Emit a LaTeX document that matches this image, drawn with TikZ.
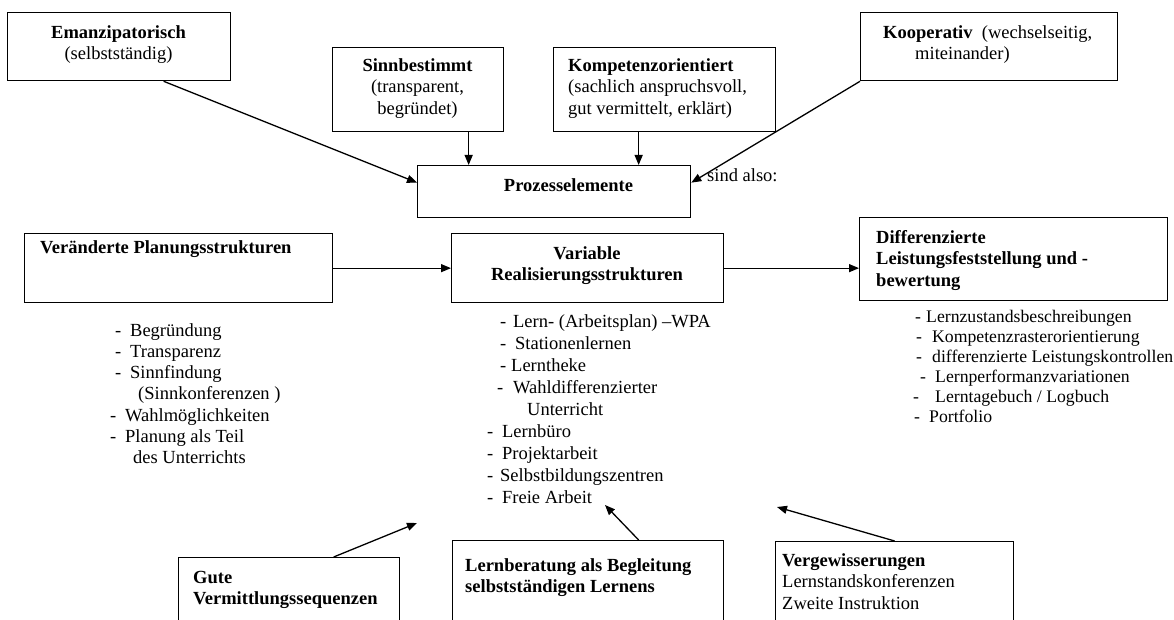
\documentclass[tikz,border=0pt]{standalone}
\usepackage{fontspec}
\setmainfont{Liberation Serif}
\usepackage{tikz}
\usetikzlibrary{arrows.meta,positioning}

% one list line: dash position, text position, text
\newcommand{\zeile}[3]{\makebox[0pt][l]{\hspace*{#1pt}-}\hspace*{#2pt}#3}
% continuation line without dash
\newcommand{\weiter}[2]{\hspace*{#1pt}#2}

\tikzset{
  kasten/.style={draw, line width=1.3pt, inner sep=0pt, anchor=north west},
  txt/.style={inner sep=0pt, font=\fontsize{18.5}{21.5}\selectfont},
  fett/.style={inner sep=0pt, font=\fontsize{18.5}{21.5}\selectfont\bfseries},
  liste/.style={inner sep=0pt, align=left, anchor=north west},
  pfeil/.style={-{Triangle[length=10pt,width=8pt]}, line width=1.3pt}
}

\begin{document}
\begin{tikzpicture}[x=1pt,y=-1pt]
\useasboundingbox (0,0) rectangle (1174,620);
\clip (0,0) rectangle (1174,620);

% top row
\node[kasten, minimum width=223pt, minimum height=68pt] (emanz) at (7,12) {};
\node[txt, align=center, anchor=north] (emanztext) at (118.5,25) {\textbf{Emanzipatorisch}\\(selbstständig)};
\node[kasten, minimum width=171pt, minimum height=84pt] (sinn) at (332,47) {};
\node[txt, align=center, anchor=north] (sinntext) at (417.5,58) {\textbf{Sinnbestimmt}\\(transparent,\\begründet)};
\node[kasten, minimum width=222pt, minimum height=84pt] (komp) at (553,47) {};
\node[txt, align=left, anchor=north west] (komptext) at (568,58) {\textbf{Kompetenzorientiert}\\(sachlich anspruchsvoll,\\gut vermittelt, erklärt)};
\node[kasten, minimum width=257pt, minimum height=68pt] (koop) at (860,12) {};
\node[txt, align=left, anchor=north west] (kooptext) at (883,25) {\textbf{Kooperativ}\ \ (wechselseitig,\\\hspace*{32pt}miteinander)};

\node[kasten, minimum width=273pt, minimum height=52pt] (prozess) at (417,165) {};
\node[fett, anchor=north] (prozesstext) at (568.5,178) {Prozesselemente};
\node[txt, anchor=north west] (sindalso) at (707,168) {sind also:};

\coordinate (sinnpfeil) at ([xshift=50.5pt]sinn.south);
\coordinate (komppfeil) at ([xshift=-26pt]komp.south);
\draw[pfeil] ([xshift=44.5pt]emanz.south) -- ([yshift=9pt]prozess.west);
\draw[pfeil] (sinnpfeil) -- (sinnpfeil |- prozess.north);
\draw[pfeil] (komppfeil) -- (komppfeil |- prozess.north);
\draw[pfeil] (koop.south west) -- ([yshift=9pt]prozess.east);

% middle row
\node[kasten, minimum width=308pt, minimum height=69pt] (plan) at (24,233) {};
\node[fett, anchor=north west] (plantext) at (40,240) {Veränderte Planungsstrukturen};
\node[kasten, minimum width=272pt, minimum height=69pt] (var) at (451,233) {};
\node[fett, align=center, anchor=north] (vartext) at (587,246) {Variable\\Realisierungsstrukturen};
\node[kasten, minimum width=308pt, minimum height=83pt] (diff) at (859,217) {};
\node[fett, align=left, anchor=north west] (difftext) at (876,230) {Differenzierte\\Leistungsfeststellung und -\\bewertung};

\draw[pfeil] (plan.east) -- (var.west);
\draw[pfeil] (var.east) -- (var.east -| diff.west);

% lists
\node[liste, font=\fontsize{18.5}{21.3}\selectfont] (planliste) at (100,323)
  {\zeile{15}{30}{Begründung}\\
   \zeile{15}{30}{Transparenz}\\
   \zeile{15}{30}{Sinnfindung}\\
   \weiter{38}{(Sinnkonferenzen )}\\
   \zeile{10}{25}{Wahlmöglichkeiten}\\
   \zeile{10}{25}{Planung als Teil}\\
   \weiter{33}{des Unterrichts}};
\node[liste, font=\fontsize{18.5}{22}\selectfont] (varliste) at (480,314)
  {\zeile{20}{33}{Lern- (Arbeitsplan) –WPA}\\
   \zeile{20}{35}{Stationenlernen}\\
   \zeile{20}{31}{Lerntheke}\\
   \zeile{17}{33}{Wahldifferenzierter}\\
   \weiter{47}{Unterricht}\\
   \zeile{7}{22}{Lernbüro}\\
   \zeile{7}{22}{Projektarbeit}\\
   \zeile{7}{20}{Selbstbildungszentren}\\
   \zeile{7}{22}{Freie Arbeit}};
\node[liste, font=\fontsize{17.7}{20}\selectfont] (diffliste) at (900,310)
  {\zeile{15}{26}{Lernzustandsbeschreibungen}\\
   \zeile{16}{32}{Kompetenzrasterorientierung}\\
   \zeile{16}{32}{differenzierte Leistungskontrollen}\\
   \zeile{20}{35}{Lernperformanzvariationen}\\
   \zeile{13}{35}{Lerntagebuch / Logbuch}\\
   \zeile{14}{29}{Portfolio}};

% bottom row
\node[kasten, minimum width=221pt, minimum height=80pt] (gute) at (178,557) {};
\node[fett, align=left, anchor=north west] (gutetext) at (193,571) {Gute\\Vermittlungssequenzen};
\node[kasten, minimum width=271pt, minimum height=97pt] (lernb) at (452,540) {};
\node[fett, align=left, anchor=north west] (lernbtext) at (465,558) {Lernberatung als Begleitung\\selbstständigen Lernens};
\node[kasten, minimum width=238pt, minimum height=96pt] (verg) at (775,541) {};
\node[txt, align=left, anchor=north west] (vergtext) at (782,553) {\textbf{Vergewisserungen}\\Lernstandskonferenzen\\Zweite Instruktion};

\coordinate (guteziel) at (417,523);
\coordinate (lernbziel) at (605,505);
\coordinate (vergziel) at (777,507);
\draw[pfeil] ([xshift=44.5pt]gute.north) -- (guteziel);
\draw[pfeil] ([xshift=50.5pt]lernb.north) -- (lernbziel);
\draw[pfeil] (verg.north) -- (vergziel);
\end{tikzpicture}
\end{document}
